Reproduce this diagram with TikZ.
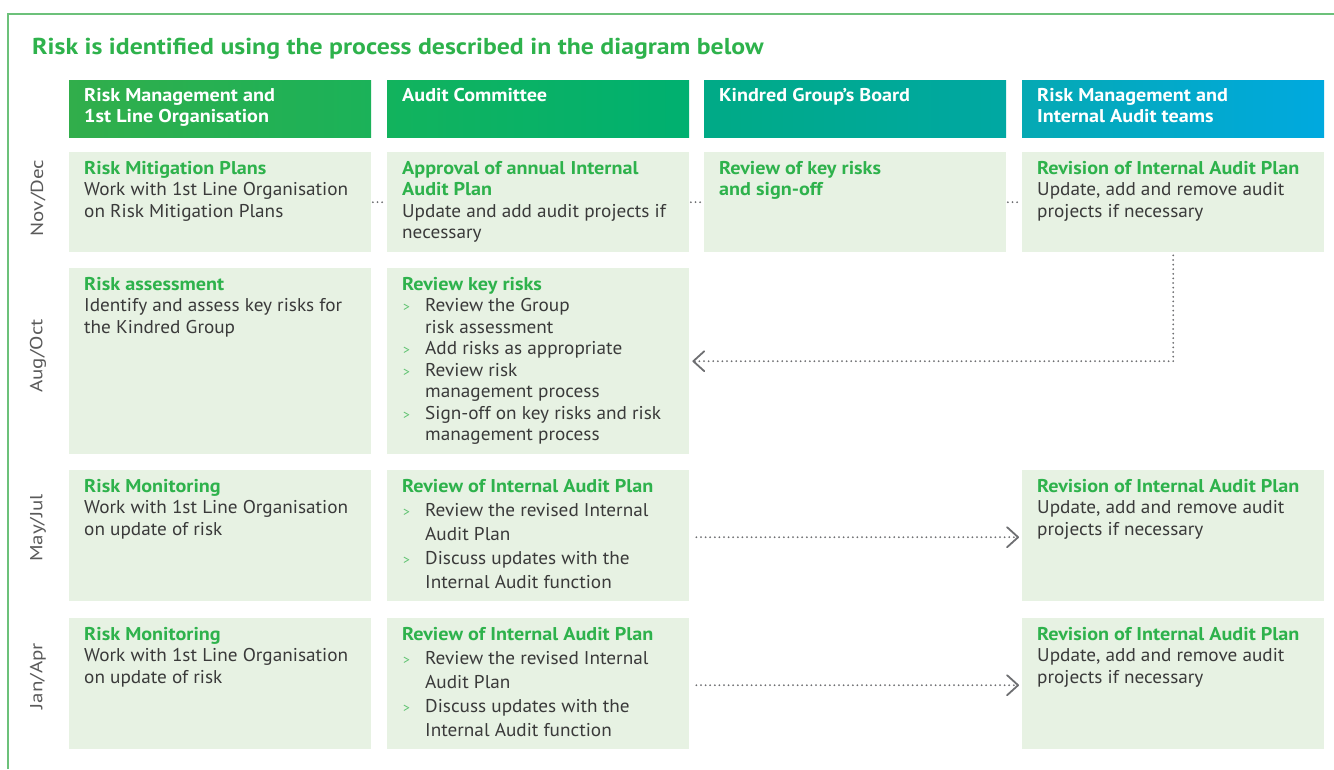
\documentclass[tikz,border=0pt]{standalone}
\usepackage{fontspec}
\setmainfont{PT Sans}[FakeStretch=1.04,BoldFeatures={FakeStretch=1.09}]
\newfontfamily\headfont{PT Sans}[BoldFeatures={FakeStretch=1.12}]
\newfontfamily\labfont{PT Sans}[FakeStretch=1.2]
\usetikzlibrary{arrows.meta}

\definecolor{kgreen}{HTML}{2EB24C}
\definecolor{bulgreen}{HTML}{5CC26E}
\definecolor{cellfill}{HTML}{E7F2E3}
\definecolor{bodytext}{HTML}{3A3A3A}
\definecolor{linkgray}{HTML}{6E6F72}
\definecolor{framegreen}{HTML}{6CC17A}
\definecolor{labgray}{HTML}{5A5A5A}

% header gradient stops
\definecolor{hA}{HTML}{31AE4B}
\definecolor{hB}{HTML}{1BB259}
\definecolor{hC}{HTML}{12B35D}
\definecolor{hD}{HTML}{00B070}
\definecolor{hE}{HTML}{00AA86}
\definecolor{hF}{HTML}{00A8A3}
\definecolor{hG}{HTML}{05A9B3}
\definecolor{hH}{HTML}{00A9DF}

\newcommand{\ttl}[1]{\textcolor{kgreen}{\bfseries #1}}
\newcommand{\bl}{\makebox[23pt][l]{\hspace{1pt}\textcolor{bulgreen}{\fontsize{13}{13}\selectfont >}}}
\newcommand{\ind}{\hspace*{23pt}}

\begin{document}
\begin{tikzpicture}[x=1pt,y=-1pt,
  frame/.style={draw=framegreen,line width=1.4pt},
  hdr/.style={anchor=north west,inner sep=0pt,minimum width=302pt,minimum height=57pt,shading=axis,shading angle=90},
  hdrtext/.style={anchor=north west,inner sep=0pt,align=left,text=white,font=\bfseries\fontsize{18.5}{21}\selectfont},
  cell/.style={anchor=north west,inner sep=0pt,minimum width=302pt,fill=cellfill},
  txt/.style={anchor=north west,inner sep=0pt,align=left,text=bodytext,font=\fontsize{18.5}{21.5}\selectfont},
  txtwide/.style={txt,font=\fontsize{18.5}{24}\selectfont},
  rowlab/.style={rotate=90,inner sep=0pt,text=labgray,font=\labfont\fontsize{17.5}{17.5}\selectfont},
  dotline/.style={draw=linkgray,line width=2pt,line cap=round,dash pattern=on 0pt off 4.6pt},
  dotarrow/.style={dotline,-{Straight Barb[length=11pt,width=20pt,line width=1.8pt,round]}}
]
\useasboundingbox (0,0) rectangle (1334,769);

% outer frame (top and left edges)
\draw[frame] (8,769) -- (8,14) -- (1334,14);

\node[anchor=base west,inner sep=0pt,text=kgreen,font=\headfont\bfseries\fontsize{23}{23}\selectfont] (title) at (32,54)
  {Risk is identified using the process described in the diagram below};

% column headers
\node[hdr,left color=hA,right color=hB] (h1) at (69,80) {};
\node[hdr,left color=hC,right color=hD] (h2) at (387,80) {};
\node[hdr,left color=hE,right color=hF] (h3) at (704,80) {};
\node[hdr,left color=hG,right color=hH] (h4) at (1022,80) {};
\node[hdrtext] (h1t) at ([xshift=15pt,yshift=-8pt]h1.north west) {Risk Management and\\1st Line Organisation};
\node[hdrtext] (h2t) at ([xshift=15pt,yshift=-8pt]h2.north west) {Audit Committee};
\node[hdrtext] (h3t) at ([xshift=15pt,yshift=-8pt]h3.north west) {Kindred Group’s Board};
\node[hdrtext] (h4t) at ([xshift=15pt,yshift=-8pt]h4.north west) {Risk Management and\\Internal Audit teams};

% row labels
\node[rowlab] (l1) at (38,198) {Nov/Dec};
\node[rowlab] (l2) at (38,356) {Aug/Oct};
\node[rowlab] (l3) at (38,528) {May/Jul};
\node[rowlab] (l4) at (38,676) {Jan/Apr};

% row 1: Nov/Dec
\node[cell,minimum height=100pt] (c11) at (69,152) {};
\node[cell,minimum height=100pt] (c12) at (387,152) {};
\node[cell,minimum height=100pt] (c13) at (704,152) {};
\node[cell,minimum height=100pt] (c14) at (1022,152) {};
% row 2: Aug/Oct
\node[cell,minimum height=186pt] (c21) at (69,268) {};
\node[cell,minimum height=186pt] (c22) at (387,268) {};
% row 3: May/Jul
\node[cell,minimum height=131pt] (c31) at (69,470) {};
\node[cell,minimum height=131pt] (c32) at (387,470) {};
\node[cell,minimum height=131pt] (c34) at (1022,470) {};
% row 4: Jan/Apr
\node[cell,minimum height=131pt] (c41) at (69,618) {};
\node[cell,minimum height=131pt] (c42) at (387,618) {};
\node[cell,minimum height=131pt] (c44) at (1022,618) {};

% cell texts
\node[txt] (t11) at ([xshift=15pt,yshift=-9pt]c11.north west)
  {\ttl{Risk Mitigation Plans}\\Work with 1st Line Organisation\\on Risk Mitigation Plans};
\node[txt] (t12) at ([xshift=15pt,yshift=-9pt]c12.north west)
  {\ttl{Approval of annual Internal}\\\ttl{Audit Plan}\\Update and add audit projects if\\necessary};
\node[txt] (t13) at ([xshift=15pt,yshift=-9pt]c13.north west)
  {\ttl{Review of key risks}\\\ttl{and sign-off}};
\node[txt] (t14) at ([xshift=15pt,yshift=-9pt]c14.north west)
  {\ttl{Revision of Internal Audit Plan}\\Update, add and remove audit\\projects if necessary};

\node[txt] (t21) at ([xshift=15pt,yshift=-9pt]c21.north west)
  {\ttl{Risk assessment}\\Identify and assess key risks for\\the Kindred Group};
\node[txt] (t22) at ([xshift=15pt,yshift=-9pt]c22.north west)
  {\ttl{Review key risks}\\\bl Review the Group\\\ind risk assessment\\\bl Add risks as appropriate\\\bl Review risk\\\ind management process\\\bl Sign-off on key risks and risk\\\ind management process};

\node[txt] (t31) at ([xshift=15pt,yshift=-9pt]c31.north west)
  {\ttl{Risk Monitoring}\\Work with 1st Line Organisation\\on update of risk};
\node[txtwide] (t32) at ([xshift=15pt,yshift=-9pt]c32.north west)
  {\ttl{Review of Internal Audit Plan}\\\bl Review the revised Internal\\\ind Audit Plan\\\bl Discuss updates with the\\\ind Internal Audit function};
\node[txt] (t34) at ([xshift=15pt,yshift=-9pt]c34.north west)
  {\ttl{Revision of Internal Audit Plan}\\Update, add and remove audit\\projects if necessary};

\node[txt] (t41) at ([xshift=15pt,yshift=-9pt]c41.north west)
  {\ttl{Risk Monitoring}\\Work with 1st Line Organisation\\on update of risk};
\node[txtwide] (t42) at ([xshift=15pt,yshift=-9pt]c42.north west)
  {\ttl{Review of Internal Audit Plan}\\\bl Review the revised Internal\\\ind Audit Plan\\\bl Discuss updates with the\\\ind Internal Audit function};
\node[txt] (t44) at ([xshift=15pt,yshift=-9pt]c44.north west)
  {\ttl{Revision of Internal Audit Plan}\\Update, add and remove audit\\projects if necessary};

% connectors
\draw[dotline] ([xshift=1.5pt]c11.east) -- ([xshift=-1.5pt]c12.west);
\draw[dotline] ([xshift=1.5pt]c12.east) -- ([xshift=-1.5pt]c13.west);
\draw[dotline] ([xshift=1.5pt]c13.east) -- ([xshift=-1.5pt]c14.west);
\draw[dotarrow,shorten >=3pt] ([yshift=-3pt]c14.south) |- (c22.east);
\draw[dotarrow,shorten <=7pt,shorten >=3pt] ([yshift=-1.5pt]c32.east) -- ([yshift=-1.5pt]c34.west);
\draw[dotarrow,shorten <=7pt,shorten >=3pt] ([yshift=-1.5pt]c42.east) -- ([yshift=-1.5pt]c44.west);
\end{tikzpicture}
\end{document}
